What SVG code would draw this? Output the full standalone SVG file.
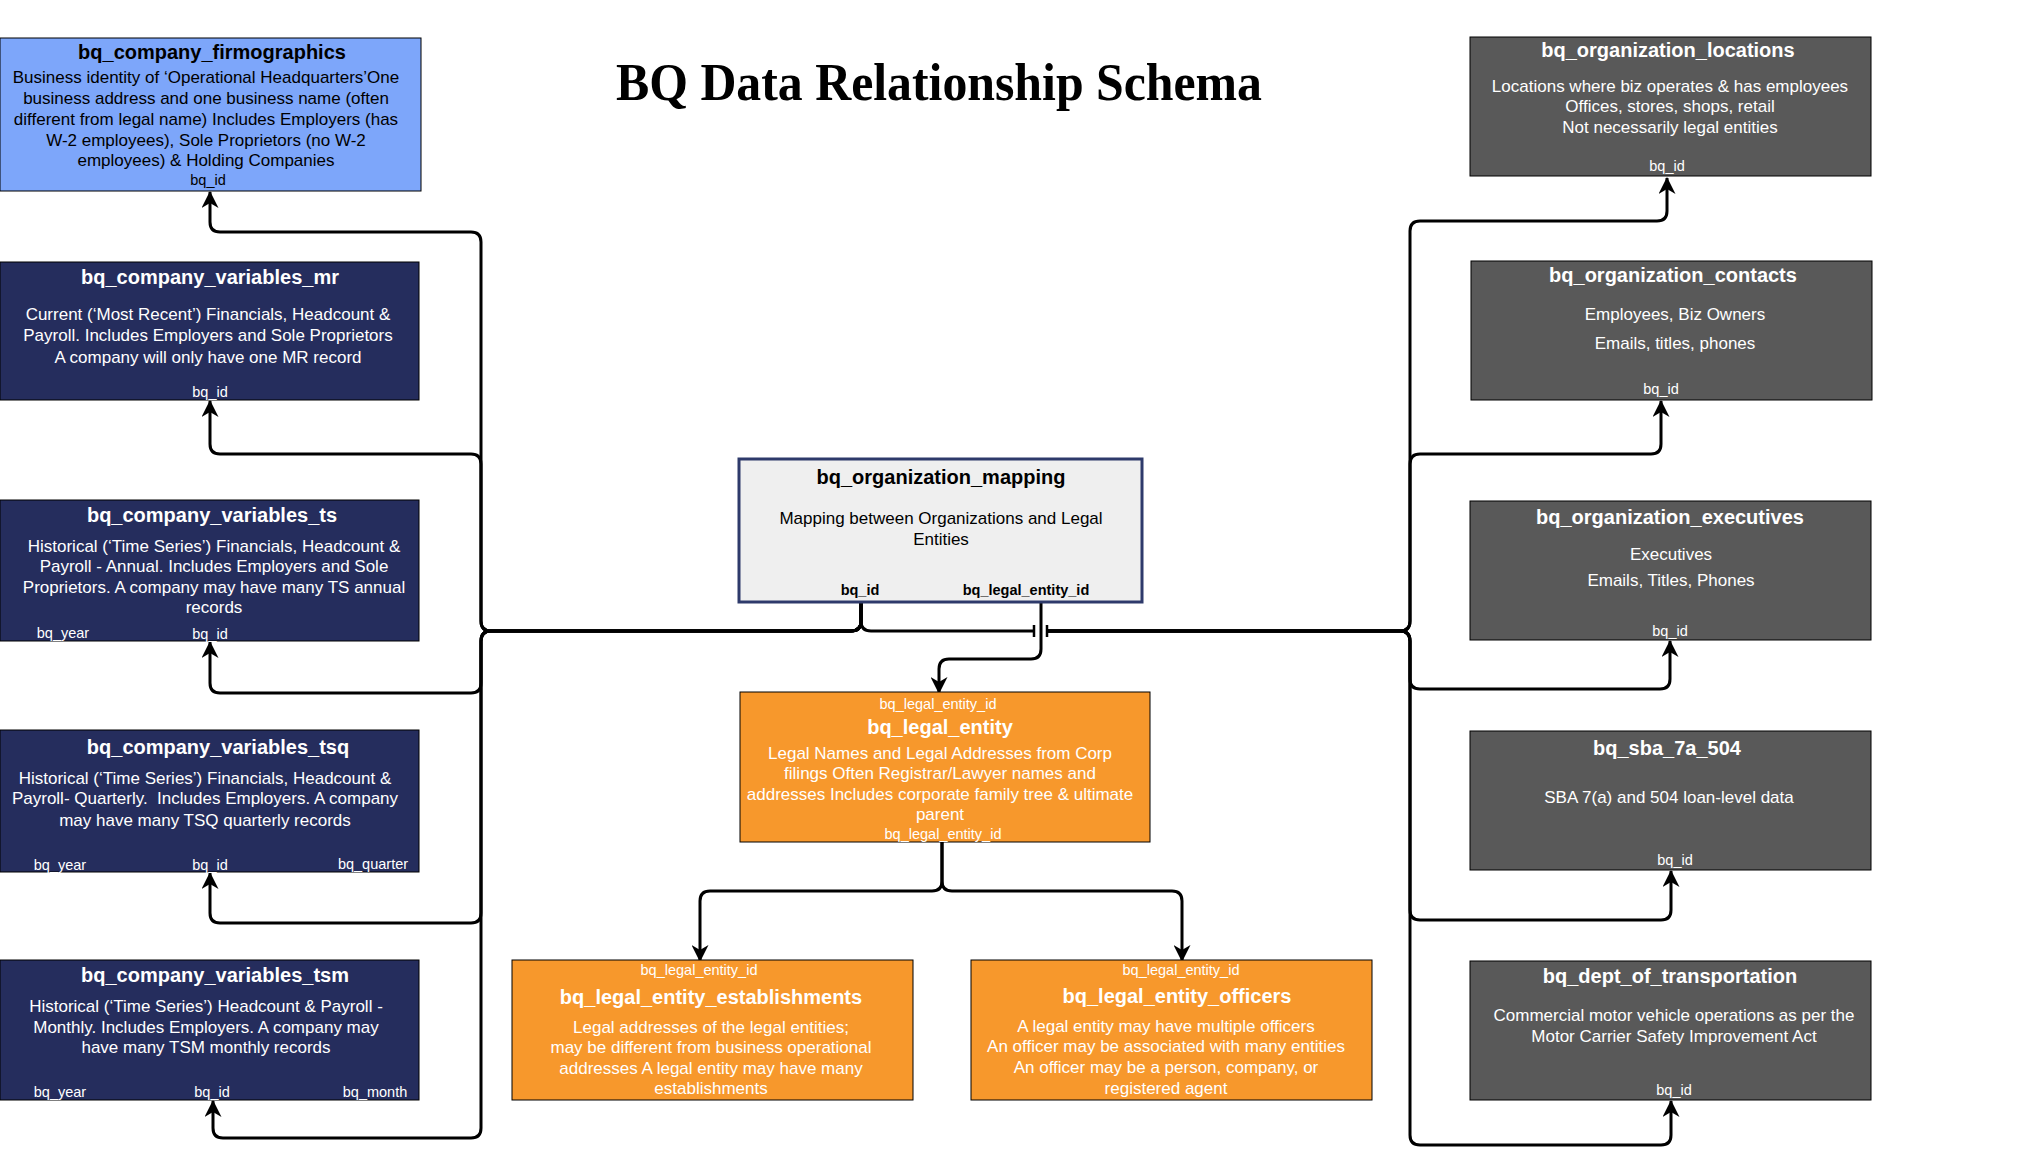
<svg xmlns="http://www.w3.org/2000/svg" width="2021" height="1156" viewBox="0 0 2021 1156">
<style>
text{font-family:"Liberation Sans",Arial,Helvetica,sans-serif;text-anchor:middle;white-space:pre}
.t{font-size:20px;font-weight:bold}
.b{font-size:17px}
.k{font-size:14.5px}
.kb{font-size:14.5px;font-weight:bold}
.w{fill:#ffffff}
.blk{fill:#000000}
.blue{fill:#7DA6FA;stroke:#000;stroke-width:1}
.navy{fill:#252D5D;stroke:#000;stroke-width:1}
.gray{fill:#595959;stroke:#000;stroke-width:1}
.orange{fill:#F7982C;stroke:#000;stroke-width:1}
.map{fill:#EFEFEF;stroke:#2E3A6B;stroke-width:3}
.c{fill:none;stroke:#000;stroke-width:3;stroke-linejoin:round}
.ca{fill:none;stroke:#000;stroke-width:3;stroke-linejoin:round;marker-end:url(#arr)}
.title{font-family:"Liberation Serif","Times New Roman",serif;font-size:52px;font-weight:bold}
</style>
<defs>
<marker id="arr" markerUnits="userSpaceOnUse" markerWidth="18" markerHeight="17" refX="16" refY="8.5" orient="auto" viewBox="0 0 18 17">
<path d="M0,0 L17,8.5 L0,17 L5,8.5 z" fill="#000"/>
</marker>
<marker id="arrs" markerUnits="userSpaceOnUse" markerWidth="8" markerHeight="8" refX="7" refY="4" orient="auto" viewBox="0 0 8 8">
<path d="M0,0 L8,4 L0,8 L2,4 z" fill="#000"/>
</marker>
</defs>
<rect width="2021" height="1156" fill="#ffffff"/>
<text class="title" x="939" y="100" textLength="646" lengthAdjust="spacingAndGlyphs">BQ Data Relationship Schema</text>

<g id="connectors">
<path class="ca" d="M861,602 V621 Q861,631 851,631 H491 Q481,631 481,621 V242 Q481,232 471,232 H220 Q210,232 210,222 V192"/>
<path class="ca" d="M861,602 V621 Q861,631 851,631 H491 Q481,631 481,621 V464 Q481,454 471,454 H220 Q210,454 210,444 V401"/>
<path class="ca" d="M861,602 V621 Q861,631 851,631 H491 Q481,631 481,641 V683 Q481,693 471,693 H220 Q210,693 210,683 V642"/>
<path class="ca" d="M861,602 V621 Q861,631 851,631 H491 Q481,631 481,641 V913 Q481,923 471,923 H220 Q210,923 210,913 V873"/>
<path class="ca" d="M861,602 V621 Q861,631 851,631 H491 Q481,631 481,641 V1128 Q481,1138 471,1138 H223 Q213,1138 213,1128 V1101"/>
<path class="c" d="M861,602 V621 Q861,631 871,631 H1034"/>
<path class="c" d="M1034,625 V637 M1047,625 V637" style="stroke-width:2.5"/>
<path class="ca" d="M1047,631 H1400 Q1410,631 1410,621 V231 Q1410,221 1420,221 H1657 Q1667,221 1667,211 V178"/>
<path class="ca" d="M1047,631 H1400 Q1410,631 1410,621 V464 Q1410,454 1420,454 H1651 Q1661,454 1661,444 V401"/>
<path class="ca" d="M1047,631 H1400 Q1410,631 1410,641 V679 Q1410,689 1420,689 H1660 Q1670,689 1670,679 V641"/>
<path class="ca" d="M1047,631 H1400 Q1410,631 1410,641 V910 Q1410,920 1420,920 H1661 Q1671,920 1671,910 V871"/>
<path class="ca" d="M1047,631 H1400 Q1410,631 1410,641 V1135 Q1410,1145 1420,1145 H1661 Q1671,1145 1671,1135 V1101"/>
<path class="ca" d="M1041,602 V649 Q1041,659 1031,659 H949 Q939,659 939,669 V693"/>
<path class="ca" d="M942,842 V881 Q942,891 932,891 H710 Q700,891 700,901 V961"/>
<path class="ca" d="M942,842 V881 Q942,891 952,891 H1172 Q1182,891 1182,901 V961"/>
<path d="M205,823 V840 H210 V861" fill="none" stroke="#000" stroke-width="1" marker-end="url(#arrs)"/>
</g>

<g id="bq_company_firmographics">
<rect class="blue" x="0" y="38" width="421" height="153"/>
<text class="t blk" x="212" y="59">bq_company_firmographics</text>
<text class="b blk" x="206" y="83">Business identity of ‘Operational Headquarters’One</text>
<text class="b blk" x="206" y="104">business address and one business name (often</text>
<text class="b blk" x="206" y="125">different from legal name) Includes Employers (has</text>
<text class="b blk" x="206" y="146">W-2 employees), Sole Proprietors (no W-2</text>
<text class="b blk" x="206" y="166">employees) &amp; Holding Companies</text>
<text class="k blk" x="208" y="185">bq_id</text>
</g>

<g id="bq_company_variables_mr">
<rect class="navy" x="0" y="262" width="419" height="138"/>
<text class="t w" x="210" y="284">bq_company_variables_mr</text>
<text class="b w" x="208" y="320">Current (‘Most Recent’) Financials, Headcount &amp;</text>
<text class="b w" x="208" y="341">Payroll. Includes Employers and Sole Proprietors</text>
<text class="b w" x="208" y="363">A company will only have one MR record</text>
<text class="k w" x="210" y="397">bq_id</text>
</g>

<g id="bq_company_variables_ts">
<rect class="navy" x="0" y="500" width="419" height="141"/>
<text class="t w" x="212" y="522">bq_company_variables_ts</text>
<text class="b w" x="214" y="552">Historical (‘Time Series’) Financials, Headcount &amp;</text>
<text class="b w" x="214" y="572">Payroll - Annual. Includes Employers and Sole</text>
<text class="b w" x="214" y="593">Proprietors. A company may have many TS annual</text>
<text class="b w" x="214" y="613">records</text>
<text class="k w" x="63" y="638">bq_year</text>
<text class="k w" x="210" y="639">bq_id</text>
</g>

<g id="bq_company_variables_tsq">
<rect class="navy" x="0" y="730" width="419" height="142"/>
<text class="t w" x="218" y="754">bq_company_variables_tsq</text>
<text class="b w" x="205" y="784">Historical (‘Time Series’) Financials, Headcount &amp;</text>
<text class="b w" x="205" y="804">Payroll- Quarterly.  Includes Employers. A company</text>
<text class="b w" x="205" y="826">may have many TSQ quarterly records</text>
<text class="k w" x="60" y="870">bq_year</text>
<text class="k w" x="210" y="870">bq_id</text>
<text class="k w" x="373" y="869">bq_quarter</text>
</g>

<g id="bq_company_variables_tsm">
<rect class="navy" x="0" y="960" width="419" height="140"/>
<text class="t w" x="215" y="982">bq_company_variables_tsm</text>
<text class="b w" x="206" y="1012">Historical (‘Time Series’) Headcount &amp; Payroll -</text>
<text class="b w" x="206" y="1033">Monthly. Includes Employers. A company may</text>
<text class="b w" x="206" y="1053">have many TSM monthly records</text>
<text class="k w" x="60" y="1097">bq_year</text>
<text class="k w" x="212" y="1097">bq_id</text>
<text class="k w" x="375" y="1097">bq_month</text>
</g>

<g id="bq_organization_mapping">
<rect class="map" x="739" y="459" width="403" height="143"/>
<text class="t blk" x="941" y="484">bq_organization_mapping</text>
<text class="b blk" x="941" y="524">Mapping between Organizations and Legal</text>
<text class="b blk" x="941" y="545">Entities</text>
<text class="kb blk" x="860" y="595">bq_id</text>
<text class="kb blk" x="1026" y="595">bq_legal_entity_id</text>
</g>

<g id="bq_legal_entity">
<rect class="orange" x="740" y="692" width="410" height="150"/>
<text class="k w" x="938" y="709">bq_legal_entity_id</text>
<text class="t w" x="940" y="734">bq_legal_entity</text>
<text class="b w" x="940" y="759">Legal Names and Legal Addresses from Corp</text>
<text class="b w" x="940" y="779">filings Often Registrar/Lawyer names and</text>
<text class="b w" x="940" y="800">addresses Includes corporate family tree &amp; ultimate</text>
<text class="b w" x="940" y="820">parent</text>
<text class="k w" x="943" y="839">bq_legal_entity_id</text>
</g>

<g id="bq_legal_entity_establishments">
<rect class="orange" x="512" y="960" width="401" height="140"/>
<text class="k w" x="699" y="975">bq_legal_entity_id</text>
<text class="t w" x="711" y="1004">bq_legal_entity_establishments</text>
<text class="b w" x="711" y="1033">Legal addresses of the legal entities;</text>
<text class="b w" x="711" y="1053">may be different from business operational</text>
<text class="b w" x="711" y="1074">addresses A legal entity may have many</text>
<text class="b w" x="711" y="1094">establishments</text>
</g>

<g id="bq_legal_entity_officers">
<rect class="orange" x="971" y="960" width="401" height="140"/>
<text class="k w" x="1181" y="975">bq_legal_entity_id</text>
<text class="t w" x="1177" y="1003">bq_legal_entity_officers</text>
<text class="b w" x="1166" y="1032">A legal entity may have multiple officers</text>
<text class="b w" x="1166" y="1052">An officer may be associated with many entities</text>
<text class="b w" x="1166" y="1073">An officer may be a person, company, or</text>
<text class="b w" x="1166" y="1094">registered agent</text>
</g>

<g id="bq_organization_locations">
<rect class="gray" x="1470" y="37" width="401" height="139"/>
<text class="t w" x="1668" y="57">bq_organization_locations</text>
<text class="b w" x="1670" y="92">Locations where biz operates &amp; has employees</text>
<text class="b w" x="1670" y="112">Offices, stores, shops, retail</text>
<text class="b w" x="1670" y="133">Not necessarily legal entities</text>
<text class="k w" x="1667" y="171">bq_id</text>
</g>

<g id="bq_organization_contacts">
<rect class="gray" x="1471" y="261" width="401" height="139"/>
<text class="t w" x="1673" y="282">bq_organization_contacts</text>
<text class="b w" x="1675" y="320">Employees, Biz Owners</text>
<text class="b w" x="1675" y="349">Emails, titles, phones</text>
<text class="k w" x="1661" y="394">bq_id</text>
</g>

<g id="bq_organization_executives">
<rect class="gray" x="1470" y="501" width="401" height="139"/>
<text class="t w" x="1670" y="524">bq_organization_executives</text>
<text class="b w" x="1671" y="560">Executives</text>
<text class="b w" x="1671" y="586">Emails, Titles, Phones</text>
<text class="k w" x="1670" y="636">bq_id</text>
</g>

<g id="bq_sba_7a_504">
<rect class="gray" x="1470" y="731" width="401" height="139"/>
<text class="t w" x="1667" y="755">bq_sba_7a_504</text>
<text class="b w" x="1669" y="803">SBA 7(a) and 504 loan-level data</text>
<text class="k w" x="1675" y="865">bq_id</text>
</g>

<g id="bq_dept_of_transportation">
<rect class="gray" x="1470" y="961" width="401" height="139"/>
<text class="t w" x="1670" y="983">bq_dept_of_transportation</text>
<text class="b w" x="1674" y="1021">Commercial motor vehicle operations as per the</text>
<text class="b w" x="1674" y="1042">Motor Carrier Safety Improvement Act</text>
<text class="k w" x="1674" y="1095">bq_id</text>
</g>
</svg>
